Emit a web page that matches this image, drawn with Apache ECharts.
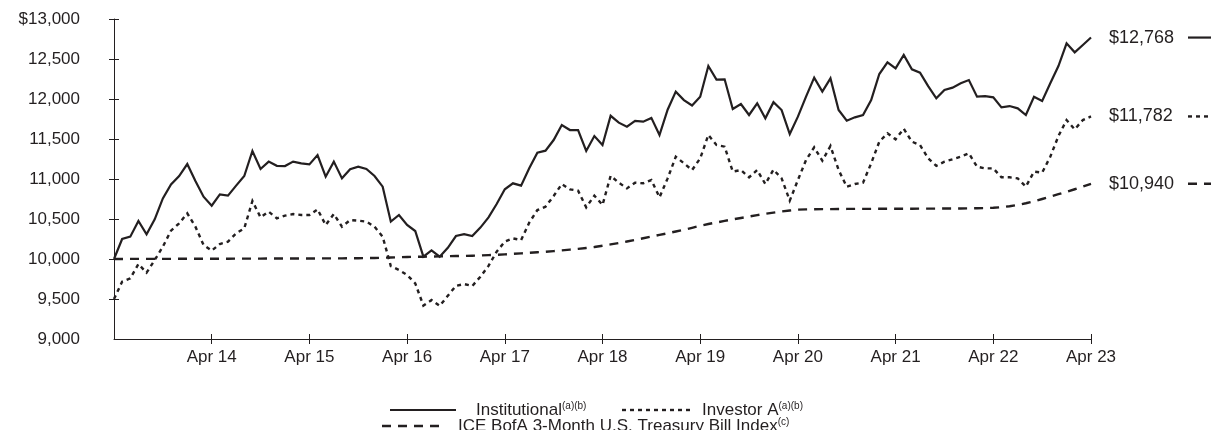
<!DOCTYPE html>
<html>
<head>
<meta charset="utf-8">
<script src="https://cdn.jsdelivr.net/npm/echarts@6/dist/echarts.min.js"></script>
<style>
html,body{margin:0;padding:0;background:#fff;}
#chart{width:1211px;height:430px;}
</style>
</head>
<body>
<div id="chart"></div>
<script>
// ---- data ----
const monthNames = ['Apr','May','Jun','Jul','Aug','Sep','Oct','Nov','Dec','Jan','Feb','Mar'];
const firstYear = 13;
const categories = [];
for (let i = 0; i <= 120; i++) {
  const m = monthNames[i % 12];
  const y = firstYear + Math.floor(i / 12) + ((i % 12) >= 9 ? 1 : 0);
  categories.push(m + ' ' + y);
}
const yTicks = [9000, 9500, 10000, 10500, 11000, 11500, 12000, 12500, 13000];

const institutional = [
  10000,10250,10279,10475,10308,10496,10758,10933,11037,11187,10975,10779,10667,
  10808,10792,10917,11037,11350,11125,11217,11165,11162,11217,11196,11183,
  11300,11029,11217,11008,11121,11154,11125,11037,10904,10467,10550,10425,
  10350,10029,10108,10029,10140,10287,10310,10287,10393,10521,10687,10871,
  10946,10917,11133,11329,11354,11487,11675,11612,11612,11350,11537,11425,
  11790,11704,11654,11727,11717,11764,11550,11866,12092,11987,11919,12029,
  12412,12242,12246,11875,11937,11800,11946,11758,11960,11862,11562,11779,
  12029,12267,12092,12258,11862,11729,11771,11800,11987,12312,12458,12383,
  12550,12371,12329,12162,12008,12112,12142,12196,12237,12029,12037,12021,
  11896,11912,11883,11800,12029,11975,12196,12412,12696,12583,12675,12768
];
const investorA = [
  9500,9717,9758,9937,9829,9987,10154,10354,10446,10571,10404,10175,10104,
  10187,10217,10321,10383,10725,10521,10592,10508,10542,10562,10550,10550,
  10621,10425,10562,10404,10487,10479,10467,10404,10279,9912,9862,9800,
  9696,9418,9487,9414,9540,9665,9687,9662,9779,9914,10092,10217,
  10258,10237,10454,10612,10654,10787,10937,10871,10854,10646,10792,10675,
  11040,10954,10883,10954,10946,10987,10771,11008,11279,11196,11112,11258,
  11550,11425,11404,11092,11112,11021,11112,10937,11116,11008,10729,10987,
  11237,11396,11229,11412,11112,10904,10937,10954,11196,11467,11571,11496,
  11629,11467,11425,11258,11165,11217,11246,11279,11321,11154,11133,11133,
  11021,11021,11008,10904,11092,11079,11279,11537,11737,11621,11737,11782
];
const tbill = [
  10000,10000,10001,10001,10001,10002,10002,10002,10003,10003,10003,10004,10004,
  10004,10004,10005,10005,10005,10005,10006,10006,10006,10006,10007,10007,
  10007,10008,10008,10008,10009,10010,10011,10013,10016,10019,10022,10025,
  10027,10029,10031,10033,10035,10037,10039,10041,10044,10048,10053,10058,
  10064,10070,10077,10084,10091,10099,10108,10117,10127,10138,10150,10165,
  10182,10200,10219,10239,10259,10280,10301,10322,10344,10366,10390,10415,
  10437,10457,10476,10495,10513,10531,10548,10565,10580,10594,10606,10617,
  10620,10622,10623,10624,10625,10626,10626,10627,10627,10628,10628,10629,
  10629,10629,10630,10630,10630,10631,10631,10632,10633,10635,10637,10640,
  10648,10660,10676,10697,10722,10750,10779,10810,10840,10872,10905,10940
];
const seriesNames = ['Institutional', 'Investor A', 'ICE BofA 3-Month U.S. Treasury Bill Index'];
const seriesNotes = ['(a)(b)', '(a)(b)', '(c)'];
const endLabels = ['$12,768', '$11,782', '$10,940'];

// ---- styles ----
const INK = '#231f20';
const FONT = '"Liberation Sans", Arial, sans-serif';
const FS = 17;
const dashTypes = ['solid', [4, 4], [9, 7]];
const widths = [2.2, 2.4, 2.4];

const chart = echarts.init(document.getElementById('chart'), null, {renderer: 'canvas'});

const option = {
  animation: false,
  backgroundColor: '#fff',
  grid: { left: 114, right: 120, top: 19, bottom: 91, containLabel: false },
  xAxis: [{
    type: 'category', data: categories, boundaryGap: false,
    axisLine: { lineStyle: { color: INK, width: 1 } },
    axisTick: { show: true, inside: false, length: 5, lineStyle: { color: INK },
      interval: (i) => i % 12 === 0 && i > 0 },
    axisLabel: { color: INK, fontFamily: FONT, fontSize: FS, margin: 10,
      interval: (i) => i % 12 === 0 && i > 0 },
    splitLine: { show: false }
  }, {
    type: 'category', data: categories, boundaryGap: false, position: 'bottom',
    axisLine: { show: false },
    axisTick: { show: true, inside: true, length: 5, lineStyle: { color: INK },
      interval: (i) => i % 12 === 0 && i > 0 },
    axisLabel: { show: false }, splitLine: { show: false }
  }],
  yAxis: [{
    type: 'value', min: yTicks[0], max: yTicks[yTicks.length - 1], interval: 500,
    axisLine: { show: true, lineStyle: { color: INK, width: 1 } },
    axisTick: { show: true, inside: false, length: 5, lineStyle: { color: INK },
      customValues: yTicks.slice(1) },
    axisLabel: { color: INK, fontFamily: FONT, fontSize: FS, margin: 34,
      formatter: (v) => (v === yTicks[yTicks.length - 1] ? '$' : '') + v.toLocaleString('en-US') },
    splitLine: { show: false }
  }, {
    type: 'value', min: yTicks[0], max: yTicks[yTicks.length - 1], interval: 500, position: 'left',
    axisLine: { show: false },
    axisTick: { show: true, inside: true, length: 5, lineStyle: { color: INK },
      customValues: yTicks.slice(1) },
    axisLabel: { show: false }, splitLine: { show: false }
  }],
  series: [institutional, investorA, tbill].map((d, i) => ({
    name: seriesNames[i], type: 'line', data: d, symbol: 'none', z: 10 - i,
    lineStyle: { color: INK, width: widths[i], type: dashTypes[i], cap: 'butt', join: 'miter' },
    itemStyle: { color: INK }
  }))
};
chart.setOption(option);

// right-side end labels with line-style samples, and the bottom legend
const lastVals = [institutional[120], investorA[120], tbill[120]];
const g = [];
function sampleLine(x1, x2, y, i) {
  return { type: 'line', shape: { x1: x1, y1: y, x2: x2, y2: y },
    style: { stroke: INK, lineWidth: widths[i], lineDash: dashTypes[i] === 'solid' ? null : dashTypes[i] } };
}
lastVals.forEach((v, i) => {
  const y = chart.convertToPixel({ yAxisIndex: 0 }, v);
  g.push({ type: 'text', x: 1109, y: y,
    style: { text: endLabels[i], fill: INK, font: '18px ' + FONT, textAlign: 'left', textVerticalAlign: 'middle' } });
  g.push(sampleLine(1188, 1216, y, i));
});
const rich = {
  m: { fontSize: FS, fontFamily: FONT, fill: INK, color: INK },
  sup: { fontSize: 10, fontFamily: FONT, fill: INK, color: INK, verticalAlign: 'top' }
};
const legendItems = [
  { i: 0, x1: 390, x2: 456, tx: 476, y: 410 },
  { i: 1, x1: 622, x2: 690, tx: 702, y: 410 },
  { i: 2, x1: 382, x2: 442, tx: 458, y: 426 }
];
legendItems.forEach((it) => {
  g.push(sampleLine(it.x1, it.x2, it.y, it.i));
  g.push({ type: 'text', x: it.tx, y: it.y,
    style: { text: '{m|' + seriesNames[it.i] + '}{sup|' + seriesNotes[it.i] + '}', rich: rich,
      fill: INK, font: FS + 'px ' + FONT, textAlign: 'left', textVerticalAlign: 'middle' } });
});
chart.setOption({ graphic: g });
</script>
</body>
</html>
